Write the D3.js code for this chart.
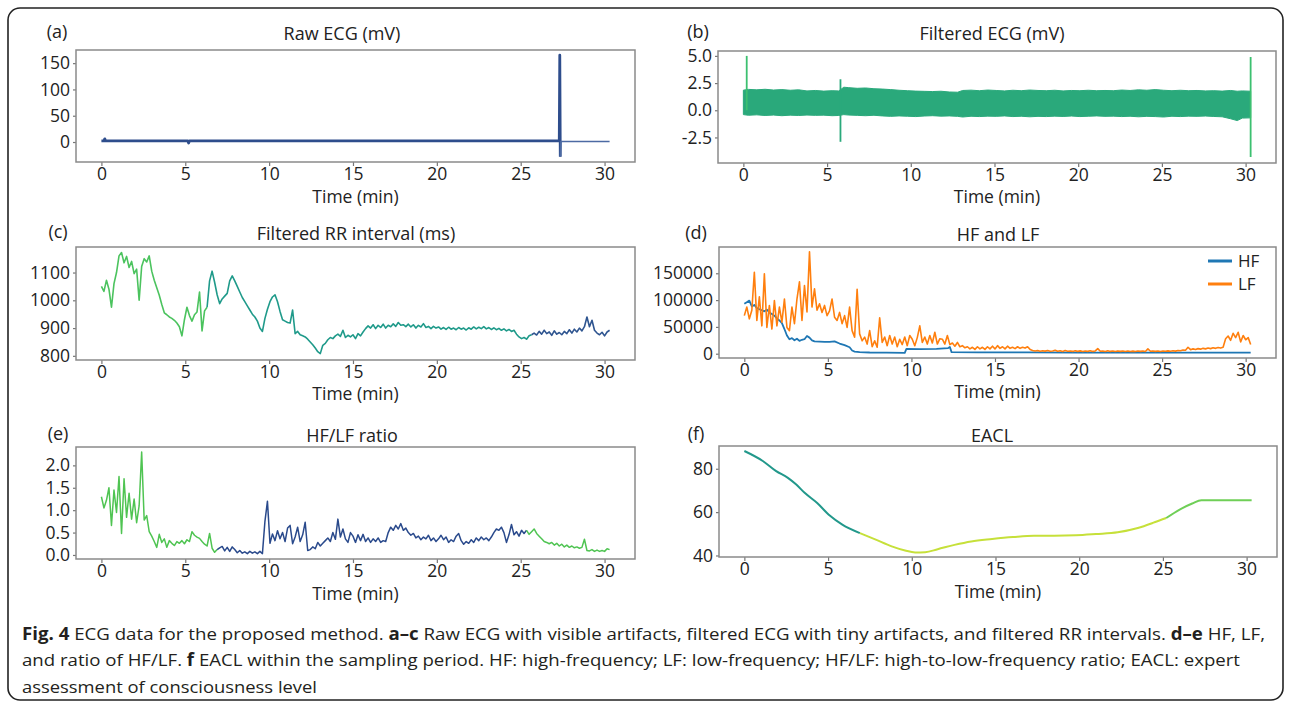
<!DOCTYPE html>
<html>
<head>
<meta charset="utf-8">
<script src="https://cdn.jsdelivr.net/npm/d3@7"></script>
<style>
  body { margin: 0; background: #fff; }
  svg { display: block; }
  text { font-family: "Open Sans", "Noto Sans", sans-serif; fill: #222; }
</style>
</head>
<body>
<svg id="fig" width="1290" height="702"></svg>
<script>
// ---- data ----
var timeTicks = [0, 5, 10, 15, 20, 25, 30];

// (a) raw ECG, mV
var rawTime  = [0, 0.15, 0.2, 0.25, 5.15, 5.2, 5.25, 27.3, 27.33, 27.36, 27.4, 30.3];
var rawValue = [2, 2, 6, 2, 2, -2, 2, 2, 165, -28, 1, 1];

// (b) filtered ECG envelope + artefact spikes, mV
var bandTime = [
  0, 0.3, 0.8, 1.3, 1.8, 2.3, 2.8, 3.3,
  3.8, 4.3, 4.8, 5.3, 5.7, 6.0, 6.3, 6.8,
  7.3, 7.8, 8.3, 8.8, 9.3, 9.8, 10.3, 10.8,
  11.3, 11.8, 12.3, 12.8, 13.1, 13.6, 14.1, 14.6,
  15.1, 15.6, 16.1, 16.6, 17.1, 17.6, 18.1, 18.6,
  19.1, 19.6, 20.1, 20.6, 21.1, 21.6, 22.1, 22.6,
  23.1, 23.6, 24.1, 24.6, 25.1, 25.6, 26.1, 26.6,
  27.1, 27.6, 28.1, 28.6, 29.1, 29.5, 29.8, 30.3
];
var bandUpper = [
  1.85, 1.92, 1.88, 1.93, 1.86, 1.90, 1.84, 1.88,
  1.78, 1.82, 1.76, 1.80, 1.78, 2.12, 2.08, 2.02,
  2.05, 1.98, 1.95, 1.90, 1.84, 1.80, 1.76, 1.74,
  1.72, 1.75, 1.68, 1.66, 1.82, 1.85, 1.80, 1.86,
  1.82, 1.78, 1.84, 1.80, 1.86, 1.82, 1.80, 1.84,
  1.78, 1.82, 1.80, 1.84, 1.80, 1.82, 1.80, 1.86,
  1.82, 1.88, 1.84, 1.90, 1.84, 1.80, 1.84, 1.80,
  1.82, 1.78, 1.80, 1.76, 1.82, 1.75, 1.78, 1.75
];
var bandLower = [
  -0.40, -0.46, -0.42, -0.48, -0.44, -0.50, -0.45, -0.48,
  -0.44, -0.47, -0.45, -0.50, -0.48, -0.40, -0.44, -0.47,
  -0.50, -0.46, -0.52, -0.56, -0.52, -0.55, -0.58, -0.53,
  -0.50, -0.54, -0.52, -0.56, -0.62, -0.55, -0.58, -0.54,
  -0.56, -0.52, -0.58, -0.55, -0.60, -0.56, -0.58, -0.54,
  -0.57, -0.53, -0.58, -0.55, -0.52, -0.56, -0.54, -0.58,
  -0.55, -0.60, -0.56, -0.58, -0.62, -0.55, -0.58, -0.54,
  -0.56, -0.53, -0.57, -0.60, -0.78, -0.95, -0.72, -0.70
];
var spikeTime = [0.2, 5.8, 30.3];
var spikeLow  = [0, -2.9, -4.3];
var spikeHigh = [5.0, 2.85, 4.9];

// (c), (d) LF and (e) are sampled every 0.15 min
var sampleStep = 0.15;
var rrValues = [
  1050, 1032, 1072, 1040, 975, 1060, 1100, 1160, 1172, 1135,
  1158, 1118, 1140, 1096, 1112, 1000, 1122, 1150, 1138, 1160,
  1105, 1072, 1045, 1018, 985, 955, 948, 940, 935, 928,
  918, 905, 872, 930, 975, 945, 925, 948, 958, 1030,
  890, 962, 975, 1070, 1105, 1065, 1020, 988, 1005, 1015,
  1025, 1070, 1088, 1070, 1050, 1030, 1010, 995, 980, 965,
  950, 940, 925, 900, 888, 935, 968, 995, 1012, 1020,
  995, 960, 930, 925, 920, 918, 965, 880, 888, 876,
  872, 868, 860, 850, 840, 828, 815, 808, 838, 845,
  858, 866, 862, 872, 878, 870, 892, 866, 874, 868,
  876, 862, 880, 872, 886, 898, 908, 900, 912, 898,
  910, 902, 914, 900, 910, 905, 915, 906, 920, 910,
  912, 905, 914, 904, 912, 900, 910, 904, 916, 902,
  906, 898, 906, 900, 904, 896, 902, 895, 903, 896,
  900, 894, 902, 896, 900, 893, 901, 896, 904, 897,
  903, 898, 905, 897, 902, 895, 901, 894, 899, 892,
  897, 890, 895, 888, 892, 878, 868, 862, 866, 860,
  872, 876, 882, 875, 888, 878, 892, 880, 886, 874,
  890, 878, 884, 876, 888, 880, 894, 882, 896, 886,
  900, 890, 905, 940, 905, 928, 892, 882, 876, 885,
  872, 886, 892
];
var rrSegments = [[0, 42], [42, 171], [171, 202]];

var lfValues = [
  71000, 87000, 65000, 81000, 152000, 62000, 106000, 52000, 149000, 49000,
  90000, 46000, 99000, 52000, 87000, 59000, 102000, 49000, 43000, 87000,
  56000, 102000, 134000, 62000, 127000, 78000, 190000, 87000, 121000, 81000,
  93000, 77000, 90000, 71000, 80000, 102000, 68000, 62000, 77000, 56000,
  71000, 49000, 87000, 43000, 31000, 120000, 37000, 24000, 31000, 18000,
  43000, 13000, 24000, 12000, 67000, 21000, 31000, 15000, 34000, 18000,
  31000, 13000, 27000, 17000, 31000, 15000, 34000, 27000, 15000, 30000,
  52000, 21000, 31000, 18000, 34000, 20000, 40000, 18000, 28000, 27000,
  18000, 34000, 17000, 20000, 14000, 21000, 13000, 15000, 11000, 13000,
  9000, 12000, 8000, 13000, 9000, 12000, 8000, 13000, 9000, 14000,
  9000, 15000, 10000, 13000, 9000, 14000, 10000, 12000, 9500, 13000,
  10000, 12000, 10500, 13000, 8000, 6000, 5000, 6000, 4500, 5500,
  4800, 6000, 4500, 5000, 6500, 4500, 5500, 4200, 5800, 4600,
  5200, 4300, 5600, 4400, 5300, 4200, 5000, 4400, 5400, 4300,
  5200, 9500, 4500, 5000, 4200, 5400, 4300, 5000, 4100, 5200,
  4300, 4900, 4000, 5100, 4200, 4800, 4000, 5000, 4300, 4900,
  4200, 9000, 4500, 5200, 4400, 5000, 4200, 5100, 4500, 5300,
  4600, 5500, 4800, 6000, 5500, 7000, 6500, 12000, 7500, 9000,
  8000, 9500, 8500, 10000, 9000, 10500, 9500, 11000, 10000, 11500,
  10500, 12000, 28000, 33000, 25000, 38000, 30000, 40000, 22000, 34000,
  26000, 30000, 17000
];
var hfTime = [0, 0.15, 0.3, 0.45, 0.6, 0.75, 0.9, 1.05, 1.2, 1.35, 1.5, 1.65, 1.8, 1.95, 2.1, 2.25, 2.4, 2.55, 2.7, 2.85,
  3.0, 3.15, 3.3, 3.45, 3.6, 3.75, 3.9, 4.05, 4.2, 4.5, 4.8, 5.1, 5.4, 5.7, 6.0, 6.3, 6.45, 6.6, 6.9, 7.5,
  8.5, 9.6, 9.7, 10.5, 11.5, 12.2, 12.3, 12.4, 14, 17, 20, 25, 30.3];
var hfValues = [93000, 96000, 99000, 88000, 91000, 85000, 83000, 81000, 79000, 82000, 77000, 74000, 71000, 66000, 62000, 57000, 46000, 34000, 27000, 29000,
  25000, 28000, 24000, 26000, 27000, 33000, 30000, 25000, 23000, 22500, 22000, 22000, 23000, 19000, 16000, 12000, 6000, 4000, 3000, 2300,
  1900, 1700, 9000, 8500, 9200, 10500, 12500, 3000, 2600, 2400, 2200, 2000, 1900];

var ratioValues = [
  1.30, 1.05, 1.22, 1.50, 0.66, 1.45, 0.95, 1.75, 0.48, 1.70,
  0.84, 1.38, 0.80, 1.25, 0.72, 1.10, 2.30, 0.78, 0.88, 0.52,
  0.42, 0.30, 0.17, 0.46, 0.28, 0.36, 0.17, 0.32, 0.26, 0.21,
  0.30, 0.26, 0.32, 0.25, 0.34, 0.30, 0.52, 0.44, 0.40, 0.37,
  0.30, 0.24, 0.20, 0.48, 0.15, 0.06, 0.12, 0.16, 0.19, 0.09,
  0.17, 0.08, 0.18, 0.12, 0.05, 0.10, 0.04, 0.07, 0.03, 0.08,
  0.04, 0.07, 0.03, 0.08, 0.03, 0.75, 1.20, 0.26, 0.47, 0.32,
  0.54, 0.36, 0.50, 0.30, 0.60, 0.66, 0.25, 0.40, 0.62, 0.30,
  0.45, 0.73, 0.10, 0.12, 0.18, 0.14, 0.28, 0.20, 0.26, 0.32,
  0.38, 0.30, 0.50, 0.35, 0.80, 0.40, 0.58, 0.36, 0.28, 0.50,
  0.42, 0.28, 0.45, 0.32, 0.46, 0.30, 0.38, 0.28, 0.36, 0.30,
  0.38, 0.28, 0.32, 0.30, 0.50, 0.62, 0.55, 0.66, 0.58, 0.70,
  0.55, 0.60, 0.50, 0.44, 0.48, 0.38, 0.42, 0.34, 0.40, 0.36,
  0.44, 0.32, 0.38, 0.30, 0.36, 0.44, 0.34, 0.40, 0.28, 0.34,
  0.30, 0.42, 0.48, 0.32, 0.24, 0.30, 0.26, 0.34, 0.28, 0.38,
  0.32, 0.40, 0.34, 0.38, 0.32, 0.40, 0.50, 0.58, 0.55, 0.62,
  0.50, 0.28, 0.45, 0.68, 0.45, 0.52, 0.42, 0.55, 0.48, 0.55,
  0.46, 0.52, 0.58, 0.48, 0.42, 0.36, 0.30, 0.28, 0.25, 0.28,
  0.22, 0.26, 0.20, 0.24, 0.18, 0.22, 0.17, 0.20, 0.16, 0.18,
  0.15, 0.17, 0.35, 0.10, 0.09, 0.12, 0.08, 0.11, 0.08, 0.10,
  0.08, 0.14, 0.12
];
var ratioSegments = [[0, 46], [46, 169], [169, 202]];

// (f) EACL
var eaclTime   = [0, 1.1, 1.9, 2.6, 3.1, 3.6, 4.35, 5.1, 5.85, 6.9, 7.85, 8.8, 9.6, 10.2, 10.8, 11.55, 12.55, 13.55, 14.8, 16.05, 17.3, 18.5, 19.8, 21.0, 22.3, 23.5, 24.5, 25.2, 26.0, 26.75, 27.3, 30.3];
var eaclValues = [88.2, 83.6, 78.9, 75.8, 72.7, 68.9, 64.2, 58.4, 54.2, 50.3, 47.3, 44.2, 42.3, 41.4, 41.5, 42.9, 44.9, 46.5, 47.6, 48.5, 49.1, 49.1, 49.3, 49.9, 50.7, 52.7, 55.3, 57.3, 61.2, 64.0, 65.5, 65.5];
var eaclSegments = [[0, 9], [9, 27], [27, 31]];

// ---- drawing ----
var svg = d3.select('#fig');
var xDomain = [-1.515, 31.815];

// outer rounded frame
svg.append('rect').attr('x', 8).attr('y', 8).attr('width', 1275).attr('height', 692)
  .attr('rx', 12).style('fill', 'none').style('stroke', '#222').style('stroke-width', 1.6);

var makePanel = function(p) {
  var g = svg.append('g');
  var x = d3.scaleLinear().domain(xDomain).range([p.left, p.right]);
  var y = d3.scaleLinear().domain(p.yDomain).range([p.bottom, p.top]);

  var clipId = 'clip-' + p.tag;
  svg.append('clipPath').attr('id', clipId).append('rect')
    .attr('x', p.left).attr('y', p.top).attr('width', p.right - p.left).attr('height', p.bottom - p.top);
  var plot = g.append('g').attr('clip-path', 'url(#' + clipId + ')');

  var xAxis = g.append('g').attr('transform', 'translate(0,' + p.bottom + ')')
    .call(d3.axisBottom(x).tickValues(timeTicks).tickSize(4).tickPadding(2));
  var yAxis = g.append('g').attr('transform', 'translate(' + p.left + ',0)')
    .call(d3.axisLeft(y).tickValues(p.yTicks).tickFormat(p.yFmt).tickSize(3).tickPadding(3));
  [xAxis, yAxis].forEach(function(a) {
    a.select('.domain').remove();
    a.selectAll('line').style('stroke', '#777').style('stroke-width', 1.2);
    a.selectAll('text').style('font-size', '17.5px').style('fill', '#222')
      .style('font-family', '"Open Sans", sans-serif');
  });

  g.append('rect').attr('x', p.left).attr('y', p.top)
    .attr('width', p.right - p.left).attr('height', p.bottom - p.top)
    .style('fill', 'none').style('stroke', '#8a8a8a').style('stroke-width', 1.5);

  g.append('text').attr('x', p.titleX).attr('y', p.titleY).attr('dy', '0.35em')
    .attr('text-anchor', 'middle').style('font-size', '18px').text(p.title);
  g.append('text').attr('x', p.labelX).attr('y', p.titleY - 2).attr('dy', '0.35em')
    .attr('text-anchor', 'middle').style('font-size', '18px').text(p.label);
  g.append('text').attr('x', (p.left + p.right) / 2).attr('y', p.xLabelY).attr('dy', '0.35em')
    .attr('text-anchor', 'middle').style('font-size', '17.5px').text('Time (min)');

  return { plot: plot, x: x, y: y };
};

var fmt1 = function(d) { return d.toFixed(1); };
var fmt0 = function(d) { return String(d); };

// draws a series as coloured pieces (index ranges)
var drawSegments = function(pn, times, values, segments, colors, width, curve) {
  var line = d3.line().x(function(i) { return pn.x(times[i]); }).y(function(i) { return pn.y(values[i]); });
  if (curve) line.curve(curve);
  segments.forEach(function(s, k) {
    pn.plot.append('path').datum(d3.range(s[0], s[1] + 1)).attr('d', line)
      .style('fill', 'none').style('stroke', colors[k]).style('stroke-width', width)
      .style('stroke-linejoin', 'round');
  });
};
var sampleTimes = rrValues.map(function(d, i) { return +(i * sampleStep).toFixed(2); });

// (a)
var pa = makePanel({ tag: 'a', left: 76, right: 635, top: 50, bottom: 162, yDomain: [-38, 175],
  yTicks: [0, 50, 100, 150], yFmt: fmt0, title: 'Raw ECG (mV)', titleX: 342, titleY: 34,
  label: '(a)', labelX: 57, xLabelY: 197 });
drawSegments(pa, rawTime, rawValue, [[0, 9]], ['#2e4d8c'], 2.8);
drawSegments(pa, rawTime, rawValue, [[9, 11]], ['#4c6aa3'], 1.7);

// (b)
var pb = makePanel({ tag: 'b', left: 718, right: 1276, top: 51, bottom: 163, yDomain: [-4.85, 5.45],
  yTicks: [-2.5, 0, 2.5, 5.0], yFmt: fmt1, title: 'Filtered ECG (mV)', titleX: 992, titleY: 34,
  label: '(b)', labelX: 698, xLabelY: 197 });
pb.plot.append('path').datum(d3.range(bandTime.length))
  .attr('d', d3.area().x(function(i) { return pb.x(bandTime[i]); })
    .y0(function(i) { return pb.y(bandLower[i]); }).y1(function(i) { return pb.y(bandUpper[i]); }))
  .style('fill', '#2aa97b').style('stroke', '#2aa97b').style('stroke-width', 1);
spikeTime.forEach(function(t, i) {
  pb.plot.append('line').attr('x1', pb.x(t)).attr('x2', pb.x(t))
    .attr('y1', pb.y(spikeLow[i])).attr('y2', pb.y(spikeHigh[i]))
    .style('stroke', i === 1 ? '#2aa97b' : '#3cc070').style('stroke-width', 1.8);
});

// (c)
var pc = makePanel({ tag: 'c', left: 76, right: 635, top: 247, bottom: 360, yDomain: [785, 1192],
  yTicks: [800, 900, 1000, 1100], yFmt: fmt0, title: 'Filtered RR interval (ms)', titleX: 356, titleY: 234,
  label: '(c)', labelX: 58, xLabelY: 394 });
drawSegments(pc, sampleTimes, rrValues, rrSegments, ['#4bc35e', '#1f9a8a', '#2f5590'], 1.6);

// (d)
var pd = makePanel({ tag: 'd', left: 719, right: 1276, top: 247, bottom: 358, yDomain: [-8000, 199000],
  yTicks: [0, 50000, 100000, 150000], yFmt: fmt0, title: 'HF and LF', titleX: 998, titleY: 235,
  label: '(d)', labelX: 696, xLabelY: 392 });
drawSegments(pd, hfTime, hfValues, [[0, hfTime.length - 1]], ['#1f77b4'], 1.8);
drawSegments(pd, sampleTimes, lfValues, [[0, lfValues.length - 1]], ['#ff7f0e'], 1.6);
var legend = pd.plot.append('g');
[['HF', '#1f77b4', 261], ['LF', '#ff7f0e', 284]].forEach(function(l) {
  legend.append('line').attr('x1', 1208).attr('x2', 1232).attr('y1', l[2]).attr('y2', l[2])
    .style('stroke', l[1]).style('stroke-width', 3);
  legend.append('text').attr('x', 1238).attr('y', l[2]).attr('dy', '0.35em')
    .style('font-size', '17px').text(l[0]);
});

// (e)
var pe = makePanel({ tag: 'e', left: 76, right: 635, top: 447, bottom: 559, yDomain: [-0.09, 2.41],
  yTicks: [0, 0.5, 1.0, 1.5, 2.0], yFmt: fmt1, title: 'HF/LF ratio', titleX: 352, titleY: 436,
  label: '(e)', labelX: 58, xLabelY: 594 });
drawSegments(pe, sampleTimes, ratioValues, ratioSegments, ['#4fc452', '#2a4a8c', '#4fc452'], 1.5);

// (f)
var pf = makePanel({ tag: 'f', left: 719, right: 1277, top: 446, bottom: 557, yDomain: [39.3, 90.5],
  yTicks: [40, 60, 80], yFmt: fmt0, title: 'EACL', titleX: 992, titleY: 436,
  label: '(f)', labelX: 696, xLabelY: 592 });
drawSegments(pf, eaclTime, eaclValues, eaclSegments, ['#22988b', '#c6e03a', '#6fcf57'], 2, d3.curveMonotoneX);

// ---- caption ----
var captionLines = [
  [['Fig. 4', true], [' ECG data for the proposed method. ', false], ['a\u2013c', true],
   [' Raw ECG with visible artifacts, filtered ECG with tiny artifacts, and filtered RR intervals. ', false],
   ['d\u2013e', true], [' HF, LF,', false]],
  [['and ratio of HF/LF. ', false], ['f', true],
   [' EACL within the sampling period. HF: high-frequency; LF: low-frequency; HF/LF: high-to-low-frequency ratio; EACL: expert', false]],
  [['assessment of consciousness level', false]]
];
var captionWidths = [1243, 1218, 295];
captionLines.forEach(function(parts, i) {
  var t = svg.append('text').attr('x', 22).attr('y', 634 + i * 26.5).attr('dy', '0.35em')
    .style('font-size', '17px').style('fill', '#231f20')
    .attr('textLength', captionWidths[i]).attr('lengthAdjust', 'spacingAndGlyphs');
  parts.forEach(function(pt) {
    t.append('tspan').style('font-weight', pt[1] ? 'bold' : 'normal').text(pt[0]);
  });
});
</script>
</body>
</html>
